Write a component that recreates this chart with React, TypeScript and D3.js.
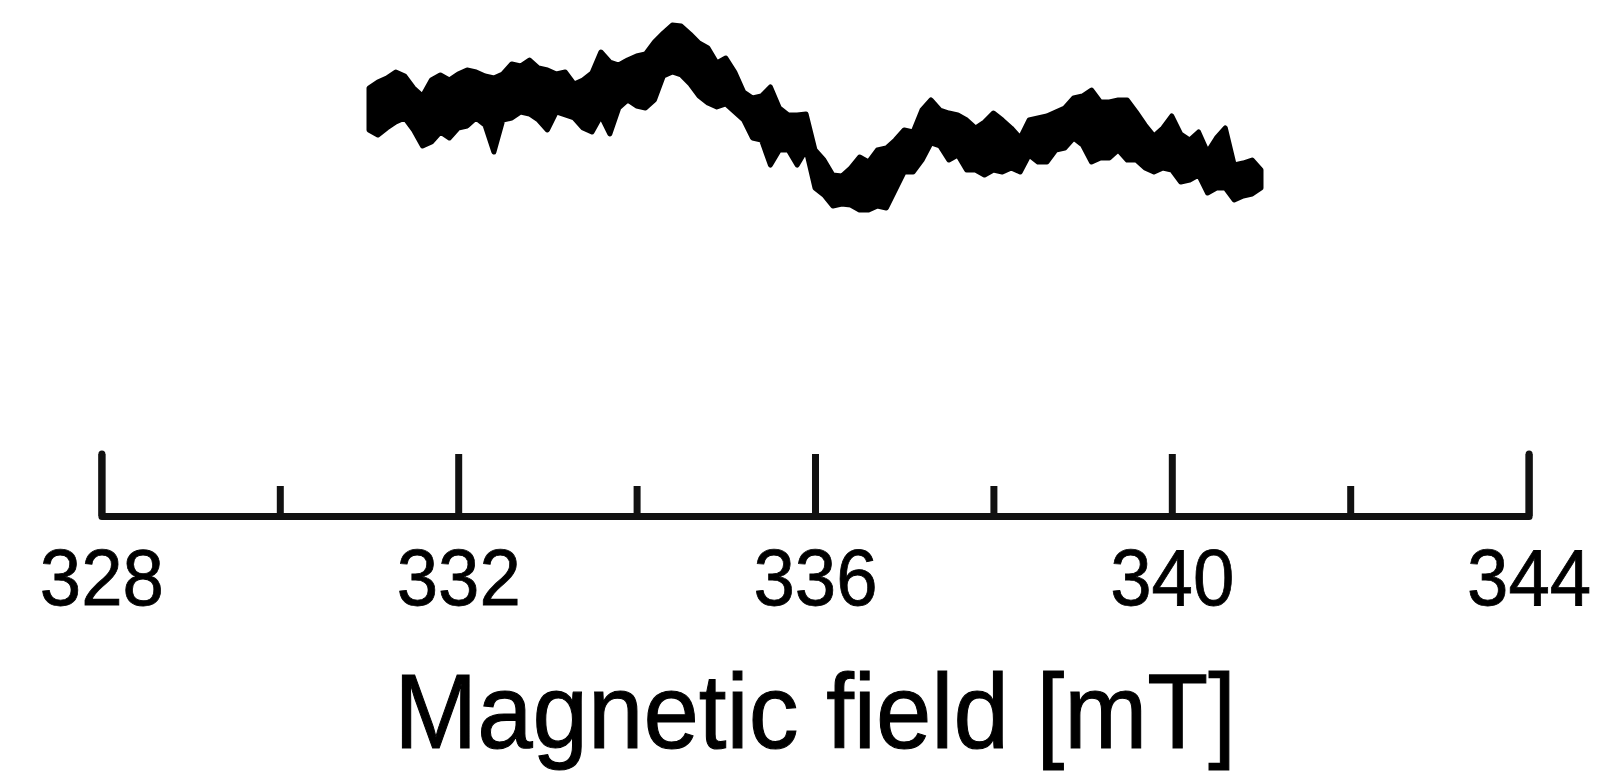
import React, {useEffect, useRef} from 'react';
import {select, scaleLinear, axisBottom, area, range} from 'd3';

// field axis [mT]
const fieldStart = 331.0;
const fieldStep = 0.1;
const majorTicks = [328, 332, 336, 340, 344];
const minorTicks = [330, 334, 338, 342];

const upperEdge = [
  42, 48, 52, 58, 54, 42, 34, 50, 55, 50,
  56, 60, 58, 54, 52, 56, 66, 64, 70, 62,
  60, 56, 58, 46, 50, 57, 78, 68, 65, 70,
  74, 76, 88, 97, 105, 104, 96, 87, 82, 67,
  72, 58, 38, 32, 34, 43, 22, 15, 15, 16,
  -20, -30, -45, -46, -38, -27, -32, -20, -18, -10,
  0, -2, 20, 30, 20, 17, 15, 10, 2, 8,
  17, 10, 2, -8, 10, 12, 14, 18, 22, 32,
  34, 40, 28, 28, 30, 30, 18, 5, -6, 2,
  14, -4, -10, -2, -22, -8, 2, -35, -33, -30, -40
];
const lowerEdge = [
  0, -5, 2, 8, 12, 0, -16, -12, -2, -8,
  2, 4, 12, 5, -22, 10, 12, 18, 16, 10,
  0, 18, 15, 12, 2, -2, 14, -4, 22, 30,
  24, 22, 30, 54, 58, 55, 46, 34, 27, 23,
  26, 18, 10, -8, -10, -35, -20, -20, -35, -20,
  -58, -65, -76, -74, -75, -80, -80, -76, -78, -60,
  -42, -42, -30, -13, -16, -30, -25, -40, -40, -45,
  -40, -42, -38, -42, -25, -32, -32, -20, -18, -8,
  -15, -32, -28, -28, -20, -30, -30, -38, -42, -38,
  -40, -52, -50, -45, -63, -58, -58, -70, -66, -64, -58
];

const width = 1610;
const height = 782;
const font = "Arial, 'Liberation Sans', Helvetica, sans-serif";

export default function App() {
  const ref = useRef<SVGSVGElement>(null);

  useEffect(() => {
    const svg = select(ref.current);
    svg.selectAll("*").remove();

    const x = scaleLinear().domain([328, 344]).range([101.4, 1528.6]);
    const y = scaleLinear().domain([-100, 100]).range([230, 30]);
    const axisY = 516;

    const data = range(upperEdge.length).map(i => ({
      field: fieldStart + i * fieldStep,
      hi: upperEdge[i],
      lo: lowerEdge[i]
    }));

    //Add the trace
    svg.append("path")
      .datum(data)
      .attr("fill", "#000")
      .attr("stroke", "#000")
      .attr("stroke-width", 5)
      .attr("stroke-linejoin", "round")
      .attr("d", area<any>()
        .x(d => x(d.field))
        .y0(d => y(d.lo))
        .y1(d => y(d.hi)));

    //Minor ticks
    svg.append("g")
      .attr("transform", "translate(0," + axisY + ")")
      .call(axisBottom(x).tickValues(minorTicks).tickSize(-30).tickFormat(() => ""))
      .call(g => g.select(".domain").remove())
      .selectAll("line")
      .attr("stroke", "#111")
      .attr("stroke-width", 7);

    //Major ticks + labels
    const g = svg.append("g")
      .attr("transform", "translate(0," + axisY + ")")
      .call(axisBottom(x).tickValues(majorTicks).tickSizeInner(-62).tickSizeOuter(-62).tickFormat(d => String(d)));
    g.select(".domain")
      .attr("stroke", "#111")
      .attr("stroke-width", 7)
      .attr("stroke-linejoin", "round")
      .attr("stroke-linecap", "round");
    g.selectAll("line")
      .attr("stroke", "#111")
      .attr("stroke-width", 7);
    g.selectAll("text")
      .attr("dy", null)
      .attr("y", 89)
      .attr("transform", "scale(0.93,1)")
      .attr("fill", "#000")
      .attr("stroke", "#000")
      .attr("stroke-width", 0.8)
      .style("font-family", font)
      .style("font-size", "80px");

    //Axis title
    svg.append("text")
      .attr("transform", "translate(815,748) scale(0.94,1)")
      .attr("text-anchor", "middle")
      .attr("stroke", "#000")
      .attr("stroke-width", 1.1)
      .style("font-family", font)
      .style("font-size", "106px")
      .text("Magnetic field [mT]");
  }, []);

  return (
    <svg ref={ref} width={width} height={height}
      style={{position: "absolute", left: 0, top: 0, background: "#fff"}} />
  );
}
